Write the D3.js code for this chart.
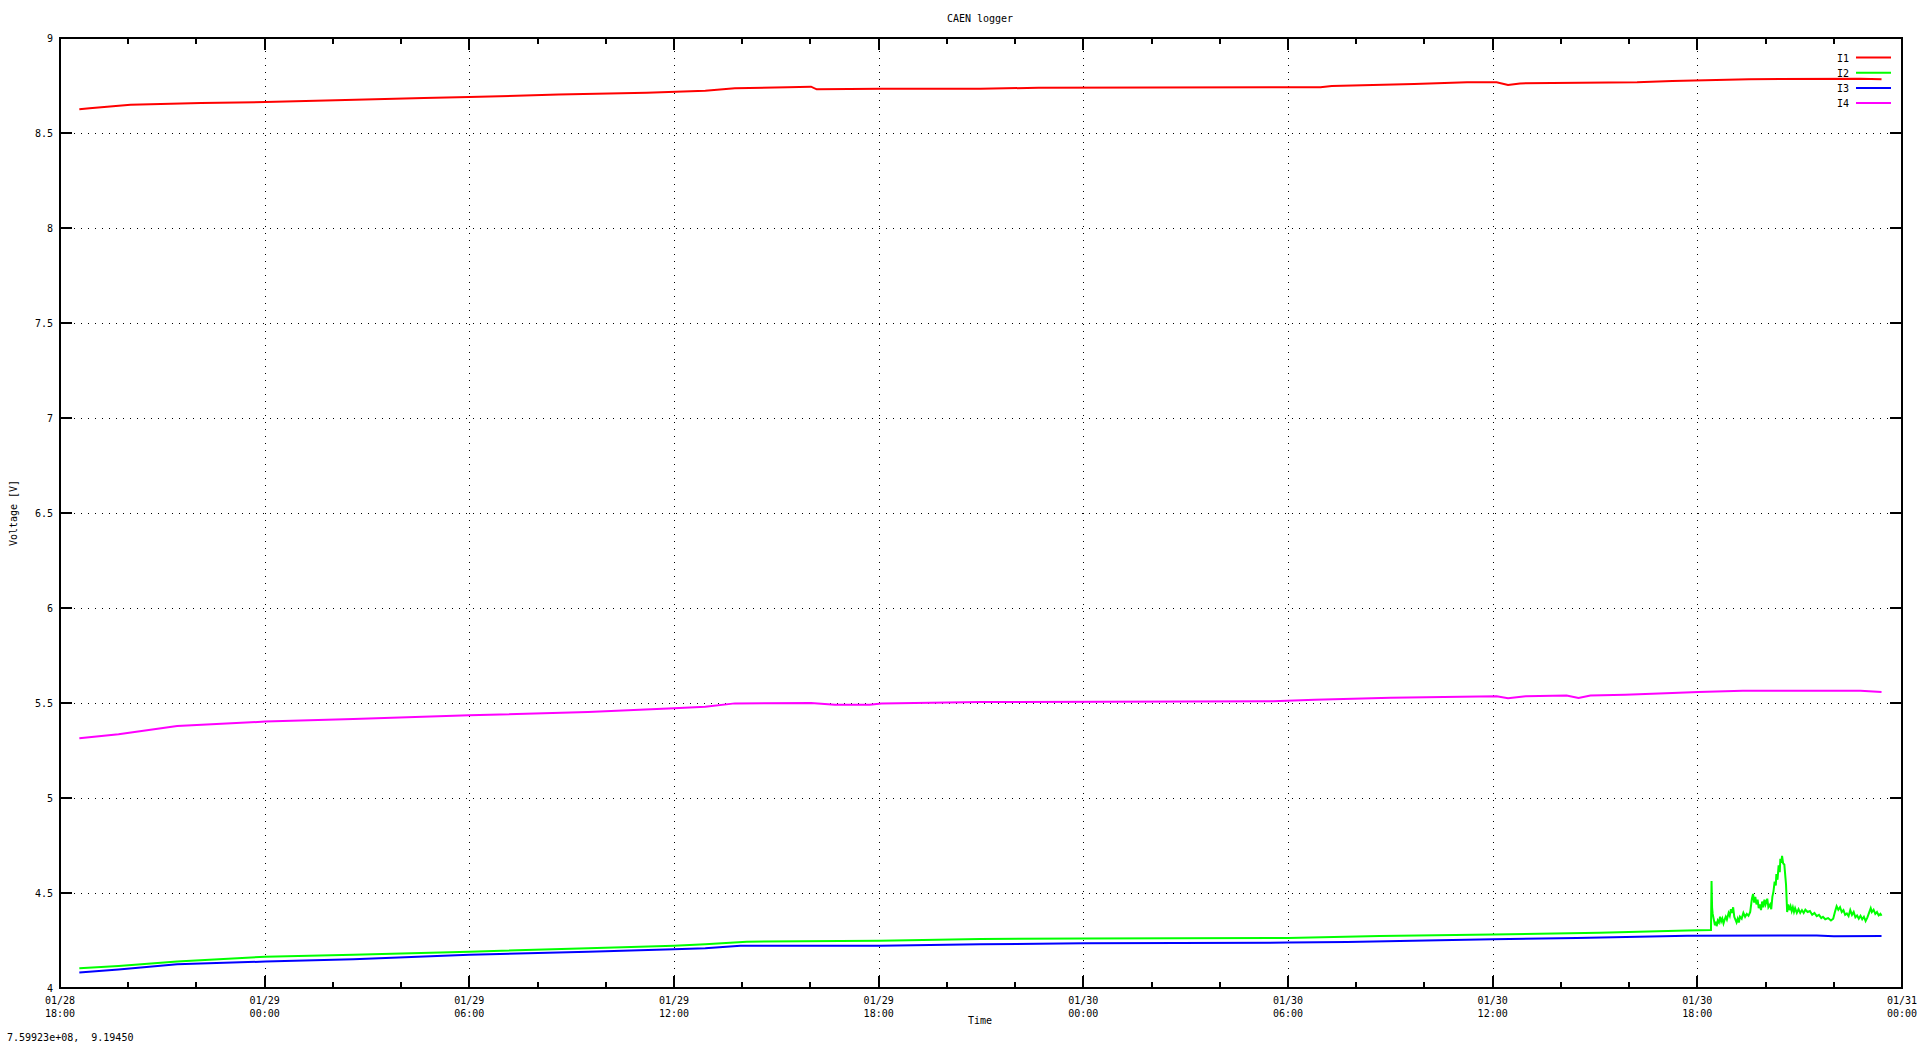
<!DOCTYPE html>
<html>
<head>
<meta charset="utf-8">
<script src="https://cdn.jsdelivr.net/npm/d3@7"></script>
<style>
  html, body { margin: 0; padding: 0; background: #fff; }
  svg { display: block; }
  text { font-family: "DejaVu Sans Mono", "Liberation Mono", monospace; font-size: 10px; fill: #000; }
</style>
</head>
<body>
<svg id="chart" width="1920" height="1043"></svg>
<script>
// readings taken off the plot, "MM/DD HH:MM" (2024), volts
const i1 = [
  ["01/28 18:34", 8.625], ["01/28 18:52", 8.630], ["01/28 20:04", 8.649], ["01/28 22:08", 8.658],
  ["01/29 00:01", 8.663], ["01/29 02:05", 8.672], ["01/29 04:40", 8.684], ["01/29 06:00", 8.689],
  ["01/29 08:37", 8.702], ["01/29 11:12", 8.712], ["01/29 12:55", 8.723], ["01/29 13:47", 8.735],
  ["01/29 15:20", 8.741], ["01/29 16:01", 8.744], ["01/29 16:11", 8.730], ["01/29 18:05", 8.733],
  ["01/29 20:59", 8.733], ["01/29 22:41", 8.738], ["01/30 06:57", 8.741], ["01/30 07:17", 8.747],
  ["01/30 09:42", 8.758], ["01/30 11:15", 8.767], ["01/30 12:07", 8.767], ["01/30 12:27", 8.753],
  ["01/30 12:48", 8.761], ["01/30 16:14", 8.767], ["01/30 17:16", 8.774], ["01/30 19:31", 8.783],
  ["01/30 22:47", 8.786], ["01/30 23:24", 8.783]
];

const i2 = [
  ["01/28 18:34", 4.104], ["01/28 19:43", 4.116], ["01/28 21:26", 4.139], ["01/29 00:01", 4.165],
  ["01/29 02:36", 4.175], ["01/29 06:00", 4.191], ["01/29 09:29", 4.209], ["01/29 12:00", 4.223],
  ["01/29 12:55", 4.230], ["01/29 14:08", 4.244], ["01/29 18:02", 4.249], ["01/29 20:59", 4.258],
  ["01/30 00:00", 4.260], ["01/30 06:00", 4.263], ["01/30 08:41", 4.274], ["01/30 12:00", 4.282],
  ["01/30 15:08", 4.291], ["01/30 17:42", 4.302], ["01/30 18:24", 4.305], ["01/30 18:25", 4.563],
  ["01/30 18:26", 4.420], ["01/30 18:27", 4.390], ["01/30 18:29", 4.360], ["01/30 18:31", 4.330],
  ["01/30 18:33", 4.350], ["01/30 18:34", 4.325], ["01/30 18:36", 4.355], ["01/30 18:38", 4.345],
  ["01/30 18:40", 4.375], ["01/30 18:42", 4.350], ["01/30 18:44", 4.365], ["01/30 18:46", 4.340],
  ["01/30 18:48", 4.360], ["01/30 18:50", 4.375], ["01/30 18:52", 4.360], ["01/30 18:55", 4.395],
  ["01/30 18:57", 4.380], ["01/30 18:59", 4.415], ["01/30 19:01", 4.395], ["01/30 19:03", 4.425],
  ["01/30 19:05", 4.375], ["01/30 19:07", 4.360], ["01/30 19:09", 4.345], ["01/30 19:11", 4.365],
  ["01/30 19:13", 4.345], ["01/30 19:15", 4.375], ["01/30 19:18", 4.365], ["01/30 19:21", 4.395],
  ["01/30 19:24", 4.375], ["01/30 19:27", 4.390], ["01/30 19:30", 4.380], ["01/30 19:33", 4.400],
  ["01/30 19:36", 4.470], ["01/30 19:38", 4.495], ["01/30 19:40", 4.450], ["01/30 19:42", 4.480],
  ["01/30 19:44", 4.440], ["01/30 19:46", 4.465], ["01/30 19:48", 4.420], ["01/30 19:50", 4.440],
  ["01/30 19:52", 4.410], ["01/30 19:54", 4.455], ["01/30 19:56", 4.425], ["01/30 19:58", 4.465],
  ["01/30 20:00", 4.440], ["01/30 20:03", 4.470], ["01/30 20:05", 4.425], ["01/30 20:08", 4.440],
  ["01/30 20:10", 4.415], ["01/30 20:12", 4.480], ["01/30 20:14", 4.510], ["01/30 20:16", 4.560],
  ["01/30 20:18", 4.540], ["01/30 20:19", 4.600], ["01/30 20:21", 4.570], ["01/30 20:23", 4.645],
  ["01/30 20:25", 4.610], ["01/30 20:26", 4.680], ["01/30 20:28", 4.660], ["01/30 20:29", 4.695],
  ["01/30 20:31", 4.655], ["01/30 20:33", 4.650], ["01/30 20:35", 4.580], ["01/30 20:36", 4.545],
  ["01/30 20:38", 4.400], ["01/30 20:40", 4.440], ["01/30 20:42", 4.410], ["01/30 20:44", 4.430],
  ["01/30 20:46", 4.405], ["01/30 20:48", 4.425], ["01/30 20:50", 4.400], ["01/30 20:52", 4.420],
  ["01/30 20:55", 4.395], ["01/30 20:58", 4.415], ["01/30 21:01", 4.395], ["01/30 21:04", 4.410],
  ["01/30 21:07", 4.395], ["01/30 21:10", 4.412], ["01/30 21:14", 4.400], ["01/30 21:18", 4.405],
  ["01/30 21:22", 4.385], ["01/30 21:26", 4.395], ["01/30 21:30", 4.378], ["01/30 21:34", 4.385],
  ["01/30 21:38", 4.368], ["01/30 21:41", 4.375], ["01/30 21:45", 4.362], ["01/30 21:50", 4.368],
  ["01/30 21:55", 4.355], ["01/30 21:59", 4.365], ["01/30 22:02", 4.400], ["01/30 22:05", 4.430],
  ["01/30 22:08", 4.412], ["01/30 22:11", 4.425], ["01/30 22:14", 4.400], ["01/30 22:17", 4.410],
  ["01/30 22:20", 4.385], ["01/30 22:23", 4.392], ["01/30 22:26", 4.378], ["01/30 22:29", 4.410],
  ["01/30 22:32", 4.385], ["01/30 22:35", 4.400], ["01/30 22:38", 4.372], ["01/30 22:41", 4.382],
  ["01/30 22:44", 4.365], ["01/30 22:47", 4.380], ["01/30 22:50", 4.362], ["01/30 22:53", 4.375],
  ["01/30 22:56", 4.352], ["01/30 22:59", 4.370], ["01/30 23:02", 4.395], ["01/30 23:05", 4.420],
  ["01/30 23:07", 4.400], ["01/30 23:10", 4.412], ["01/30 23:13", 4.390], ["01/30 23:16", 4.400],
  ["01/30 23:19", 4.382], ["01/30 23:22", 4.390], ["01/30 23:24", 4.380]
];

const i3 = [
  ["01/28 18:34", 4.081], ["01/28 19:43", 4.098], ["01/28 21:26", 4.125], ["01/29 00:01", 4.139],
  ["01/29 02:36", 4.151], ["01/29 06:00", 4.175], ["01/29 09:29", 4.191], ["01/29 12:00", 4.204],
  ["01/29 12:55", 4.209], ["01/29 13:57", 4.223], ["01/29 18:02", 4.223], ["01/29 20:59", 4.230],
  ["01/30 00:00", 4.235], ["01/30 06:00", 4.239], ["01/30 07:44", 4.242], ["01/30 10:26", 4.251],
  ["01/30 12:00", 4.256], ["01/30 14:28", 4.263], ["01/30 17:42", 4.275], ["01/30 21:30", 4.276],
  ["01/30 22:00", 4.273], ["01/30 23:24", 4.274]
];

const i4 = [
  ["01/28 18:34", 5.314], ["01/28 19:43", 5.335], ["01/28 21:26", 5.379], ["01/29 00:01", 5.402],
  ["01/29 02:36", 5.416], ["01/29 06:00", 5.435], ["01/29 09:29", 5.453], ["01/29 12:00", 5.472],
  ["01/29 12:55", 5.480], ["01/29 13:47", 5.498], ["01/29 16:01", 5.500], ["01/29 16:43", 5.491],
  ["01/29 17:44", 5.491], ["01/29 18:05", 5.497], ["01/29 20:59", 5.505], ["01/30 05:34", 5.509],
  ["01/30 06:47", 5.517], ["01/30 09:01", 5.528], ["01/30 12:07", 5.535], ["01/30 12:27", 5.525],
  ["01/30 12:58", 5.535], ["01/30 14:10", 5.540], ["01/30 14:31", 5.527], ["01/30 14:52", 5.540],
  ["01/30 15:53", 5.544], ["01/30 17:16", 5.553], ["01/30 18:02", 5.558], ["01/30 19:20", 5.565],
  ["01/30 22:47", 5.565], ["01/30 23:24", 5.558]
];

const seriesNames = ["I1", "I2", "I3", "I4"];
const seriesColors = ["#ff0000", "#00ff00", "#0000ff", "#ff00ff"];
const yTicks = [4, 4.5, 5, 5.5, 6, 6.5, 7, 7.5, 8, 8.5, 9];

const parse = d3.timeParse("%Y/%m/%d %H:%M");
const toDate = (s) => parse("2024/" + s);

const pLeft = 60, pRight = 1902, pTop = 38, pBottom = 988;

const svg = d3.select("#chart");

const x = d3.scaleTime()
    .domain([toDate("01/28 18:00"), toDate("01/31 00:00")])
    .range([pLeft, pRight]);
const y = d3.scaleLinear()
    .domain([4, 9])
    .range([pBottom, pTop]);

const majorT = x.ticks(d3.timeHour.every(6));
const minorT = x.ticks(d3.timeHour.every(2)).filter((d) => d.getHours() % 6 !== 0);

// grid (dotted, major ticks only)
const grid = svg.append("g").attr("stroke", "#000").attr("stroke-width", 1)
    .attr("stroke-dasharray", "1,6").attr("shape-rendering", "crispEdges");
grid.selectAll(".gx").data(majorT.slice(1, -1)).enter().append("line")
    .attr("x1", (d) => Math.round(x(d)) + 0.5).attr("x2", (d) => Math.round(x(d)) + 0.5)
    .attr("y1", pBottom - 12).attr("y2", pTop + 12);
grid.selectAll(".gy").data(yTicks.slice(1, -1)).enter().append("line")
    .attr("y1", (d) => Math.round(y(d)) + 0.5).attr("y2", (d) => Math.round(y(d)) + 0.5)
    .attr("x1", pLeft + 14).attr("x2", pRight - 12);

// ticks, all pointing inward, mirrored on top and right
const ticks = svg.append("g").attr("stroke", "#000").attr("stroke-width", 2).attr("shape-rendering", "crispEdges");
[[majorT, 12], [minorT, 6]].forEach(([arr, len]) => {
    ticks.selectAll(null).data(arr).enter().append("line")
        .attr("x1", (d) => Math.round(x(d))).attr("x2", (d) => Math.round(x(d)))
        .attr("y1", pBottom).attr("y2", pBottom - len);
    ticks.selectAll(null).data(arr).enter().append("line")
        .attr("x1", (d) => Math.round(x(d))).attr("x2", (d) => Math.round(x(d)))
        .attr("y1", pTop).attr("y2", pTop + len);
});
ticks.selectAll(null).data(yTicks).enter().append("line")
    .attr("y1", (d) => Math.round(y(d))).attr("y2", (d) => Math.round(y(d)))
    .attr("x1", pLeft).attr("x2", pLeft + 12);
ticks.selectAll(null).data(yTicks).enter().append("line")
    .attr("y1", (d) => Math.round(y(d))).attr("y2", (d) => Math.round(y(d)))
    .attr("x1", pRight).attr("x2", pRight - 12);

// tick labels
svg.append("g").selectAll("text").data(yTicks).enter().append("text")
    .attr("x", pLeft - 7).attr("y", (d) => y(d) + 4)
    .attr("text-anchor", "end")
    .text((d) => d3.format("~g")(d));

const xl = svg.append("g").selectAll("text").data(majorT).enter().append("text")
    .attr("text-anchor", "middle");
xl.append("tspan").attr("x", (d) => x(d)).attr("y", 1004).text(d3.timeFormat("%m/%d"));
xl.append("tspan").attr("x", (d) => x(d)).attr("y", 1017).text(d3.timeFormat("%H:%M"));

// series
const line = d3.line().x((d) => x(toDate(d[0]))).y((d) => y(d[1]));
[i1, i2, i3, i4].forEach((s, k) => {
    svg.append("path")
        .datum(s)
        .attr("d", line)
        .attr("fill", "none")
        .attr("stroke", seriesColors[k])
        .attr("stroke-width", 2)
        .attr("stroke-linejoin", "miter");
});

// border
svg.append("rect")
    .attr("x", pLeft).attr("y", pTop)
    .attr("width", pRight - pLeft).attr("height", pBottom - pTop)
    .attr("fill", "none").attr("stroke", "#000").attr("stroke-width", 2)
    .attr("shape-rendering", "crispEdges");

// legend
const leg = svg.append("g");
seriesNames.forEach((n, k) => {
    const ly = 57.5 + k * 15.2;
    leg.append("text").attr("x", 1849).attr("y", ly + 4).attr("text-anchor", "end").text(n);
    leg.append("line").attr("x1", 1856).attr("x2", 1891).attr("y1", ly).attr("y2", ly)
        .attr("stroke", seriesColors[k]).attr("stroke-width", 2);
});

// labels
svg.append("text").attr("x", 980).attr("y", 22).attr("text-anchor", "middle").text("CAEN logger");
svg.append("text").attr("x", 980).attr("y", 1024).attr("text-anchor", "middle").text("Time");
svg.append("text").attr("transform", "translate(17,513) rotate(-90)").attr("text-anchor", "middle").text("Voltage [V]");
svg.append("text").attr("x", 7).attr("y", 1041).attr("xml:space", "preserve").text("7.59923e+08,  9.19450");
</script>
</body>
</html>
